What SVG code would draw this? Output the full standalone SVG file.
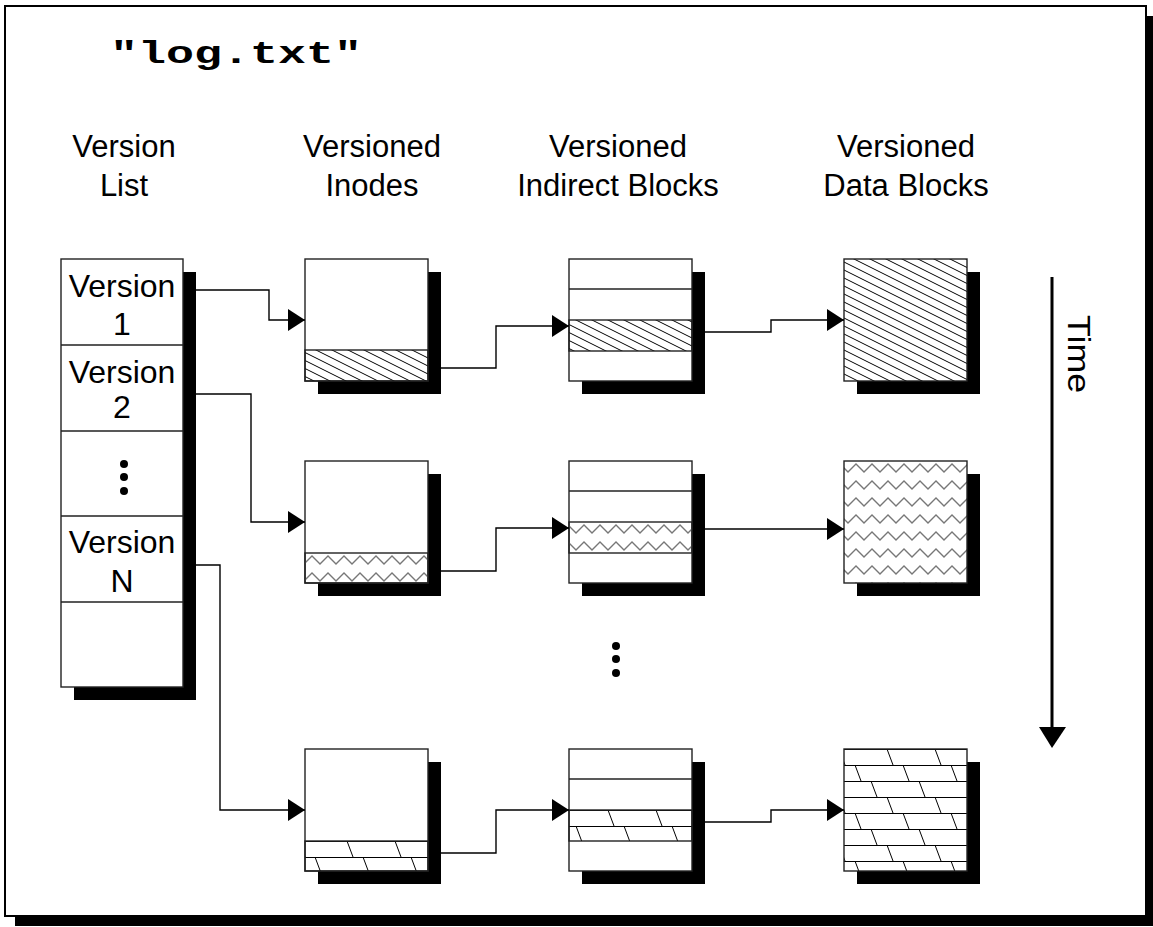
<svg xmlns="http://www.w3.org/2000/svg" width="1153" height="927" viewBox="0 0 1153 927">
<style>
.sh{fill:#000}
.bx{fill:#fff;stroke:#222;stroke-width:1.4}
.dv{stroke:#222;stroke-width:1.4;fill:none}
.cn{fill:none;stroke:#000;stroke-width:1.4;marker-end:url(#ah)}
.t{font-family:"Liberation Sans",Arial,sans-serif;font-size:32px;fill:#000;text-anchor:middle}
.h{font-family:"Liberation Sans",Arial,sans-serif;font-size:31px;fill:#000;text-anchor:middle}
</style>
<defs>
<marker id="ah" markerUnits="userSpaceOnUse" markerWidth="17" markerHeight="22" refX="17" refY="11" orient="auto">
<path d="M0,0 L17,11 L0,22 z" fill="#000"/>
</marker>
<pattern id="diag" patternUnits="userSpaceOnUse" x="0" y="0" width="16" height="8">
<path d="M-2,-1 L18,9 M-18,-1 L2,9 M14,-1 L34,9" stroke="#000" stroke-width="1"/>
</pattern>
<pattern id="zz" patternUnits="userSpaceOnUse" x="0" y="461" width="16" height="17">
<path d="M-8,3 L0,11 L8,3 L16,11 L24,3" stroke="#777" stroke-width="1.3" fill="none"/>
</pattern>
<pattern id="zz2" patternUnits="userSpaceOnUse" x="0" y="553" width="16" height="17">
<path d="M-8,3 L0,11 L8,3 L16,11 L24,3" stroke="#777" stroke-width="1.3" fill="none"/>
</pattern>
<pattern id="zz3" patternUnits="userSpaceOnUse" x="0" y="522" width="16" height="17">
<path d="M-8,3 L0,11 L8,3 L16,11 L24,3" stroke="#777" stroke-width="1.3" fill="none"/>
</pattern>
<pattern id="brD" patternUnits="userSpaceOnUse" x="887" y="749" width="48" height="48">
<path d="M0,0.5 H48 M0,16.5 H48 M0,32.5 H48 M0,0 L6,16 M16,16 L22,32 M32,32 L38,48" stroke="#000" stroke-width="1" fill="none"/>
</pattern>
<pattern id="brI" patternUnits="userSpaceOnUse" x="347" y="841" width="48" height="48">
<path d="M0,0.5 H48 M0,16.5 H48 M0,32.5 H48 M0,0 L6,16 M16,16 L22,32 M32,32 L38,48" stroke="#000" stroke-width="1" fill="none"/>
</pattern>
<pattern id="brN" patternUnits="userSpaceOnUse" x="560" y="810" width="48" height="48">
<path d="M0,0.5 H48 M0,16.5 H48 M0,32.5 H48 M0,0 L6,16 M16,16 L22,32 M32,32 L38,48" stroke="#000" stroke-width="1" fill="none"/>
</pattern>
</defs>

<g id="frame">
<rect x="15" y="16" width="1141" height="910" fill="#000"/>
<rect x="5" y="6" width="1141" height="910" fill="#fff" stroke="#000" stroke-width="2"/>
</g>

<g id="title">
<text x="110" y="63" font-family="'Liberation Mono','Courier New',monospace" font-weight="bold" font-size="31" textLength="252" lengthAdjust="spacingAndGlyphs">"log.txt"</text>
</g>

<g id="headers">
<text class="h" x="124" y="157">Version</text>
<text class="h" x="124" y="196">List</text>
<text class="h" x="372" y="157">Versioned</text>
<text class="h" x="372" y="196">Inodes</text>
<text class="h" x="618" y="157">Versioned</text>
<text class="h" x="618" y="196">Indirect Blocks</text>
<text class="h" x="906" y="157">Versioned</text>
<text class="h" x="906" y="196">Data Blocks</text>
</g>

<g id="version-list">
<rect class="sh" x="74" y="272" width="122" height="428"/>
<rect class="bx" x="61" y="259" width="122" height="428"/>
<path class="dv" d="M61,345 H183 M61,431 H183 M61,516 H183 M61,602 H183"/>
<text class="t" x="122" y="297">Version</text>
<text class="t" x="122" y="335">1</text>
<text class="t" x="122" y="383">Version</text>
<text class="t" x="122" y="418">2</text>
<circle cx="124" cy="464" r="4"/>
<circle cx="124" cy="477" r="4"/>
<circle cx="124" cy="491" r="4"/>
<text class="t" x="122" y="553">Version</text>
<text class="t" x="122" y="592">N</text>
</g>

<g id="inode1">
<rect class="sh" x="318" y="272" width="123" height="122"/>
<rect class="bx" x="305" y="259" width="123" height="122"/>
<rect x="305" y="350" width="123" height="31" fill="url(#diag)" stroke="#222" stroke-width="1.4"/>
</g>
<g id="inode2">
<rect class="sh" x="318" y="474" width="123" height="122"/>
<rect class="bx" x="305" y="461" width="123" height="122"/>
<rect x="305" y="553" width="123" height="30" fill="url(#zz2)" stroke="#222" stroke-width="1.4"/>
</g>
<g id="inode3">
<rect class="sh" x="318" y="762" width="123" height="122"/>
<rect class="bx" x="305" y="749" width="123" height="122"/>
<rect x="305" y="841" width="123" height="30" fill="url(#brI)" stroke="#222" stroke-width="1.4"/>
</g>

<g id="indirect1">
<rect class="sh" x="582" y="272" width="123" height="122"/>
<rect class="bx" x="569" y="259" width="123" height="122"/>
<rect x="569" y="320" width="123" height="31" fill="url(#diag)" stroke="#222" stroke-width="1.4"/>
<path class="dv" d="M569,289 H692"/>
</g>
<g id="indirect2">
<rect class="sh" x="582" y="474" width="123" height="122"/>
<rect class="bx" x="569" y="461" width="123" height="122"/>
<rect x="569" y="522" width="123" height="31" fill="url(#zz3)" stroke="#222" stroke-width="1.4"/>
<path class="dv" d="M569,491 H692"/>
</g>
<g id="indirect3">
<rect class="sh" x="582" y="762" width="123" height="122"/>
<rect class="bx" x="569" y="749" width="123" height="122"/>
<rect x="569" y="810" width="123" height="31" fill="url(#brN)" stroke="#222" stroke-width="1.4"/>
<path class="dv" d="M569,779 H692"/>
</g>

<g id="data1">
<rect class="sh" x="857" y="272" width="123" height="122"/>
<rect x="844" y="259" width="123" height="122" fill="#fff"/>
<rect x="844" y="259" width="123" height="122" fill="url(#diag)" stroke="#222" stroke-width="1.4"/>
</g>
<g id="data2">
<rect class="sh" x="857" y="474" width="123" height="122"/>
<rect x="844" y="461" width="123" height="122" fill="#fff"/>
<rect x="844" y="461" width="123" height="122" fill="url(#zz)" stroke="#222" stroke-width="1.4"/>
</g>
<g id="data3">
<rect class="sh" x="857" y="762" width="123" height="122"/>
<rect x="844" y="749" width="123" height="122" fill="#fff"/>
<rect x="844" y="749" width="123" height="122" fill="url(#brD)" stroke="#222" stroke-width="1.4"/>
</g>

<g id="ellipsis">
<circle cx="616" cy="646" r="4"/>
<circle cx="616" cy="659" r="4"/>
<circle cx="616" cy="673" r="4"/>
</g>

<g id="time">
<line x1="1052" y1="277" x2="1052" y2="729" stroke="#000" stroke-width="3"/>
<path d="M1039,727 L1066,727 L1052,748 z" fill="#000"/>
<text transform="translate(1068,315) rotate(90)" font-family="'Liberation Sans',Arial,sans-serif" font-size="31" textLength="78" lengthAdjust="spacingAndGlyphs">Time</text>
</g>

<g id="connectors">
<path class="cn" d="M196,290 H269 V320 H305"/>
<path class="cn" d="M196,394 H251 V522 H305"/>
<path class="cn" d="M196,565 H220 V810 H305"/>
<path class="cn" d="M441,368 H496 V326 H569"/>
<path class="cn" d="M441,571 H496 V528 H569"/>
<path class="cn" d="M441,853 H496 V810 H569"/>
<path class="cn" d="M705,332 H771 V320 H844"/>
<path class="cn" d="M705,529 H844"/>
<path class="cn" d="M705,822 H771 V810 H844"/>
</g>
</svg>
